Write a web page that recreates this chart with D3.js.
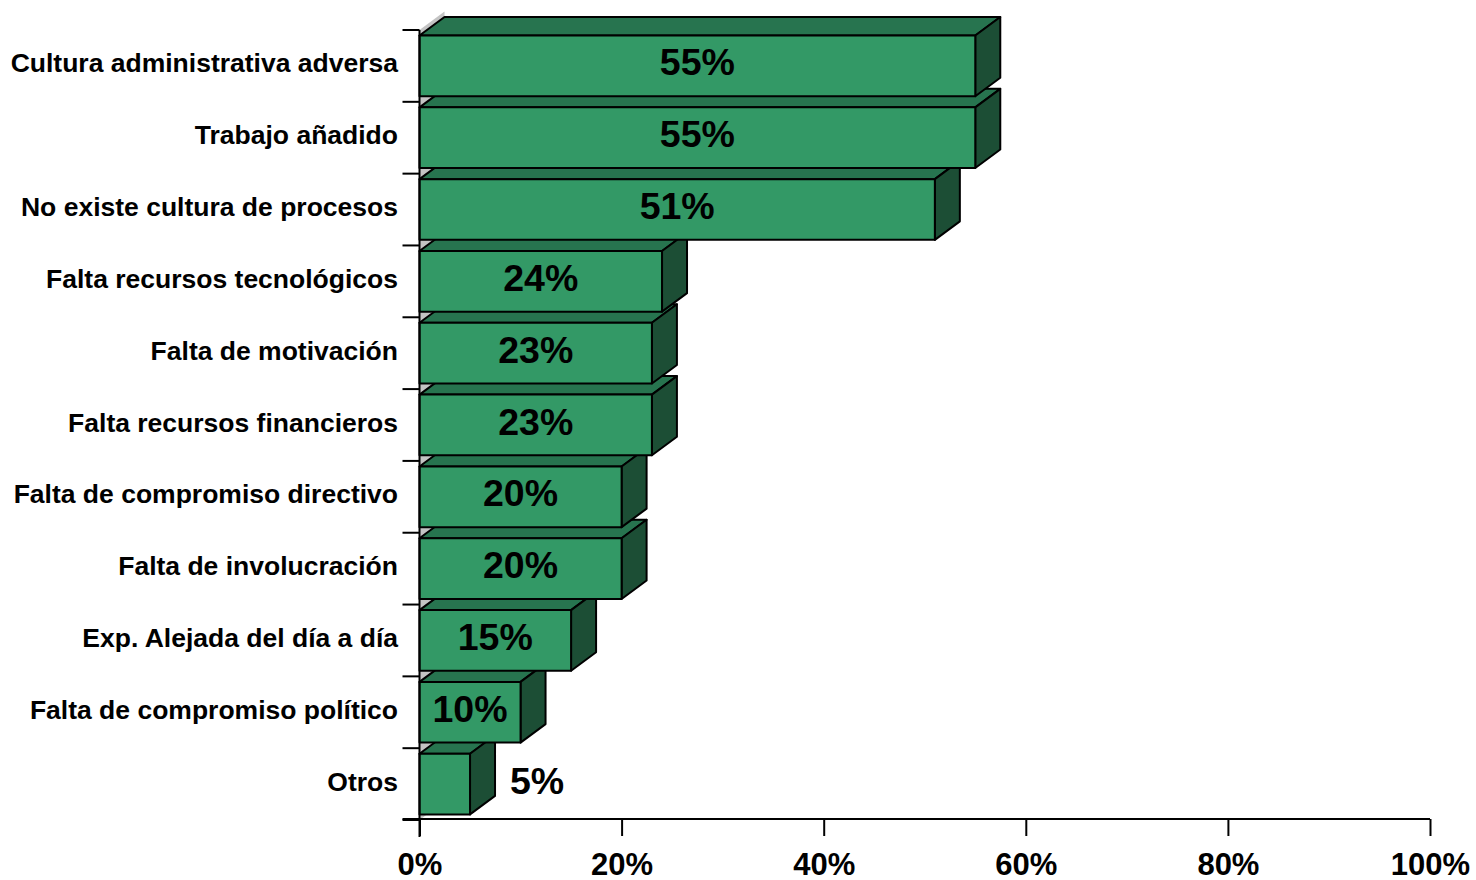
<!DOCTYPE html>
<html>
<head>
<meta charset="utf-8">
<script src="https://cdn.jsdelivr.net/npm/d3@7"></script>
<style>
  html, body { margin: 0; padding: 0; background: #ffffff; }
  svg { display: block; font-family: Arial, "Liberation Sans", Helvetica, sans-serif; }
</style>
</head>
<body>
<svg id="chart" width="1476" height="880"></svg>
<script>
// Obstacles and the share of respondents naming each one
const categories = [
  "Cultura administrativa adversa",
  "Trabajo añadido",
  "No existe cultura de procesos",
  "Falta recursos tecnológicos",
  "Falta de motivación",
  "Falta recursos financieros",
  "Falta de compromiso directivo",
  "Falta de involucración",
  "Exp. Alejada del día a día",
  "Falta de compromiso político",
  "Otros"
];
const values = [55, 55, 51, 24, 23, 23, 20, 20, 15, 10, 5];
const xTicks = [0, 20, 40, 60, 80, 100];

const svg = d3.select("#chart");

const plotLeft = 419.5, plotRight = 1430, plotTop = 30, plotBottom = 820;
const depthX = 25, depthY = -18.5;

const x = d3.scaleLinear().domain([0, 100]).range([plotLeft, plotRight]);
const y = d3.scaleBand().domain(categories).range([plotTop, plotBottom]).padding(0);

const colFront = "#339966";
const colTop = "#27744f";
const colSide = "#1c4e35";
const colWall = "#c4c4c4";

// Side wall of the 3D plot area
svg.append("polygon")
  .attr("points", [
    [plotLeft, plotTop], [plotLeft + depthX, plotTop + depthY],
    [plotLeft + depthX, plotBottom + depthY], [plotLeft, plotBottom]
  ].map(p => p.join(",")).join(" "))
  .attr("fill", colWall);

const data = categories.map((c, i) => ({ cat: c, val: values[i] }));

// Bars are drawn bottom-up so the upper ones sit in front of the lower ones' top faces
const barG = svg.append("g");
const bw = y.bandwidth();
const barTopOff = bw * 0.077, barH = bw * 0.845;

data.slice().reverse().forEach(d => {
  const x0 = x(0), x1 = x(d.val);
  const y0 = y(d.cat) + barTopOff, y1 = y0 + barH;
  const g = barG.append("g");
  const poly = (pts, fill) => g.append("polygon")
    .attr("points", pts.map(p => p.join(",")).join(" "))
    .attr("fill", fill)
    .attr("stroke", "#000")
    .attr("stroke-width", 2)
    .attr("stroke-linejoin", "round");
  // top face
  poly([[x0, y0], [x0 + depthX, y0 + depthY], [x1 + depthX, y0 + depthY], [x1, y0]], colTop);
  // right face
  poly([[x1, y0], [x1 + depthX, y0 + depthY], [x1 + depthX, y1 + depthY], [x1, y1]], colSide);
  // front face
  poly([[x0, y0], [x1, y0], [x1, y1], [x0, y1]], colFront);
});

// Category axis with ticks at band boundaries
svg.append("line")
  .attr("x1", plotLeft).attr("x2", plotLeft)
  .attr("y1", plotTop).attr("y2", plotBottom + 17)
  .attr("stroke", "#000").attr("stroke-width", 2);

const bounds = categories.map(c => y(c)).concat([plotBottom]);
svg.append("g").selectAll("line").data(bounds).join("line")
  .attr("x1", plotLeft - 17).attr("x2", plotLeft)
  .attr("y1", d => d).attr("y2", d => d)
  .attr("stroke", "#000").attr("stroke-width", 2);

svg.append("g").selectAll("text").data(categories).join("text")
  .attr("x", 398)
  .attr("y", d => y(d) + bw / 2 - 3)
  .attr("dy", "0.36em")
  .attr("text-anchor", "end")
  .attr("font-size", 26.5)
  .attr("font-weight", "bold")
  .attr("fill", "#000")
  .text(d => d);

// Value axis
const xAxis = d3.axisBottom(x)
  .tickValues(xTicks)
  .tickFormat(d => d + "%")
  .tickSize(17)
  .tickSizeOuter(0)
  .tickPadding(17);

const axG = svg.append("g")
  .attr("transform", `translate(0,${plotBottom - 1})`)
  .call(xAxis);
axG.select(".domain").remove();
axG.append("line")
  .attr("x1", plotLeft - 17).attr("x2", plotRight)
  .attr("y1", 0).attr("y2", 0)
  .attr("stroke", "#000").attr("stroke-width", 2);
axG.selectAll(".tick line").attr("stroke", "#000").attr("stroke-width", 2);
axG.selectAll(".tick text")
  .attr("font-family", "Arial, 'Liberation Sans', sans-serif")
  .attr("font-size", 31)
  .attr("font-weight", "bold")
  .attr("fill", "#000");

// Value labels: centred on the front face, or beside the bar when it is too narrow
const labelG = svg.append("g");
data.forEach(d => {
  const w = x(d.val) - x(0);
  const inside = w > 80;
  labelG.append("text")
    .attr("x", inside ? (x(0) + x(d.val)) / 2 : x(d.val) + depthX + 15)
    .attr("y", y(d.cat) + bw / 2 - 4)
    .attr("dy", "0.36em")
    .attr("text-anchor", inside ? "middle" : "start")
    .attr("font-size", 37.5)
    .attr("font-weight", "bold")
    .attr("fill", "#000")
    .text(d.val + "%");
});
</script>
</body>
</html>
